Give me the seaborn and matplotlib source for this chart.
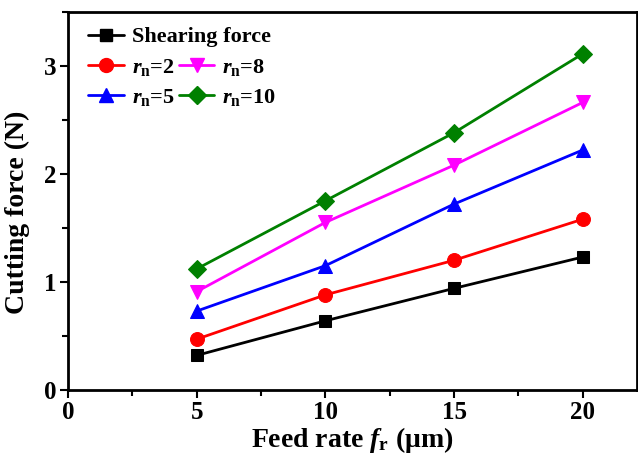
import matplotlib
matplotlib.use("Agg")
import matplotlib.pyplot as plt
import seaborn as sns
import pandas as pd
from matplotlib.ticker import MultipleLocator
from matplotlib.lines import Line2D

feed = [5, 10, 15, 20]
shearing = [0.32, 0.64, 0.94, 1.23]
rn2 = [0.47, 0.88, 1.20, 1.58]
rn5 = [0.73, 1.15, 1.72, 2.22]
rn8 = [0.91, 1.55, 2.08, 2.66]
rn10 = [1.12, 1.75, 2.38, 3.11]

labels = ["Shearing force", r"$\mathit{r}_\mathrm{n}$=2", r"$\mathit{r}_\mathrm{n}$=5",
          r"$\mathit{r}_\mathrm{n}$=8", r"$\mathit{r}_\mathrm{n}$=10"]
series = [shearing, rn2, rn5, rn8, rn10]
colors = ["black", "red", "blue", "magenta", "#008000"]
markers = ["s", "o", "^", "v", "D"]
msizes = [9, 10, 10, 10, 9]

rows = []
for lab, vals in zip(labels, series):
    for f, v in zip(feed, vals):
        rows.append({"feed": f, "force": v, "series": lab})
df = pd.DataFrame(rows)

sns.set_theme(style="ticks")
plt.rcParams["font.family"] = ["Liberation Serif", "DejaVu Serif"]
plt.rcParams["font.weight"] = "bold"
plt.rcParams["mathtext.fontset"] = "custom"
plt.rcParams["mathtext.rm"] = "Liberation Serif:bold"
plt.rcParams["mathtext.it"] = "Liberation Serif:bold:italic"
plt.rcParams["mathtext.bf"] = "Liberation Serif:bold"
for k in ["text.color", "axes.labelcolor", "xtick.color", "ytick.color", "axes.edgecolor"]:
    plt.rcParams[k] = "black"

fig = plt.figure(figsize=(6.38, 4.58), dpi=100)
ax = fig.add_axes([0.1066, 0.1485, 0.8914, 0.826])

handles = []
for lab, c, m, ms in zip(labels, colors, markers, msizes):
    sub = df[df["series"] == lab]
    sns.lineplot(data=sub, x="feed", y="force", ax=ax, color=c, marker=m,
                 markersize=ms, markeredgecolor=c, linewidth=2, legend=False)
    handles.append(Line2D([], [], color=c, marker=m, markersize=ms,
                          markeredgecolor=c, linewidth=2, label=lab))

ax.set_xlim(0, 22.1)
ax.set_ylim(0, 3.5)
ax.xaxis.set_major_locator(MultipleLocator(5))
ax.xaxis.set_minor_locator(MultipleLocator(2.5))
ax.yaxis.set_major_locator(MultipleLocator(1))
ax.yaxis.set_minor_locator(MultipleLocator(0.5))
ax.tick_params(axis="both", which="major", direction="out", length=6, width=1.5,
               labelsize=18, pad=2)
ax.tick_params(axis="both", which="minor", direction="out", length=4, width=1.5)
for s in ax.spines.values():
    s.set_linewidth(2)
for t in ax.get_xticklabels() + ax.get_yticklabels():
    t.set_fontweight("bold")

ax.set_xlabel(r"Feed rate $\mathit{f}_\mathrm{r}$ ($\mathrm{\mu}$m)", fontsize=20,
              fontweight="bold", labelpad=1)
ax.set_ylabel("Cutting force (N)", fontsize=20, fontweight="bold", labelpad=2)
ax.yaxis.set_label_coords(-0.066, 0.47)

leg1 = ax.legend(handles=[handles[0]], loc="upper left", bbox_to_anchor=(0.012, 0.995),
                 frameon=False, fontsize=16, handlelength=1.6, handletextpad=0.35,
                 borderaxespad=0.2)
ax.add_artist(leg1)
ax.legend(handles=handles[1:], loc="upper left", bbox_to_anchor=(0.012, 0.915),
          ncol=2, frameon=False, fontsize=16, handlelength=1.6, handletextpad=0.35,
          columnspacing=0.2, labelspacing=0.4, borderaxespad=0.2)

fig.savefig("out.png", dpi=100)
